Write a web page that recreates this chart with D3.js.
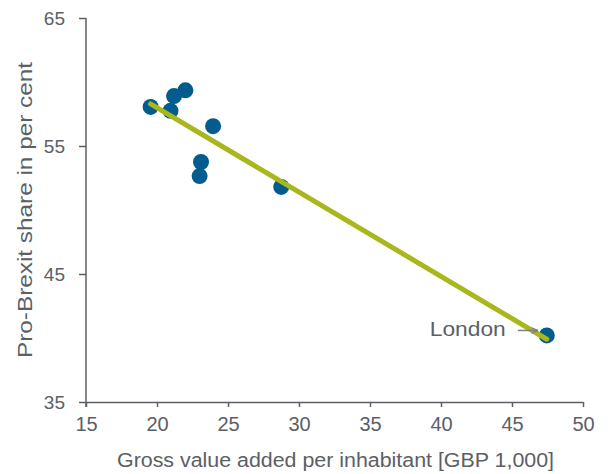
<!DOCTYPE html>
<html>
<head>
<meta charset="utf-8">
<script src="https://cdn.jsdelivr.net/npm/d3@7/dist/d3.min.js"></script>
<style>
  html, body { margin: 0; padding: 0; background: #fff; }
  svg { display: block; font-family: "Liberation Sans", Arial, sans-serif; }
</style>
</head>
<body>
<svg id="chart" width="611" height="474"></svg>
<script>
// Regions: gross value added per inhabitant [GBP 1,000] vs pro-Brexit vote share [%]
const regions = ["R1", "R2", "R3", "R4", "R5", "R6", "R7", "R8", "London"];
const gva     = [19.55, 21.2, 22.0, 20.95, 23.95, 23.1, 23.0, 28.75, 47.45];
const leave   = [58.05, 58.9, 59.35, 57.75, 56.55, 53.75, 52.65, 51.8, 40.2];
const xTicks  = [15, 20, 25, 30, 35, 40, 45, 50];
const yTicks  = [35, 45, 55, 65];
const labelled = "London";

const svg = d3.select("#chart");
const textColor = "#5b6066";
const axisColor = "#5b6066";
const dotColor = "#035b8e";
const fitColor = "#a7b71c";

const x = d3.scaleLinear().domain([15, 50]).range([86, 583]);
const y = d3.scaleLinear().domain([35, 65]).range([402, 18]);

// Axes
const xAxis = svg.append("g")
  .attr("transform", `translate(0,${y(35)})`)
  .call(d3.axisBottom(x).tickValues(xTicks).tickSize(5).tickSizeOuter(0).tickPadding(10));
const yAxis = svg.append("g")
  .attr("transform", `translate(${x(15)},0)`)
  .call(d3.axisLeft(y).tickValues(yTicks).tickSize(7).tickSizeOuter(0).tickPadding(14));

[xAxis, yAxis].forEach(a => {
  a.selectAll("path.domain").attr("stroke", axisColor).attr("stroke-width", 1.5);
  a.selectAll(".tick line").attr("stroke", axisColor).attr("stroke-width", 1.5);
  a.selectAll(".tick text").attr("fill", textColor)
    .style("font-family", "'Liberation Sans', Arial, sans-serif");
});
xAxis.selectAll(".tick text").style("font-size", "20px");
yAxis.selectAll(".tick text").style("font-size", "19px");
// the vertical axis runs a little below the horizontal one
yAxis.select("path.domain").attr("d", `M0,${y(65)}V${y(35) + 5}`);

// Axis titles
svg.append("text")
  .attr("x", 117).attr("y", 467)
  .attr("textLength", 437).attr("lengthAdjust", "spacingAndGlyphs")
  .attr("fill", textColor)
  .style("font-size", "20px")
  .text("Gross value added per inhabitant [GBP 1,000]");
svg.append("text")
  .attr("transform", `translate(32,${(y(35) + y(65)) / 2}) rotate(-90)`)
  .attr("x", -148)
  .attr("textLength", 296).attr("lengthAdjust", "spacingAndGlyphs")
  .attr("fill", textColor)
  .style("font-size", "20px")
  .text("Pro-Brexit share in per cent");

// Data points
const data = regions.map((r, i) => ({ r, x: gva[i], y: leave[i] }));

// Least-squares fit across the observed range
const mx = d3.mean(data, d => d.x), my = d3.mean(data, d => d.y);
const slope = d3.sum(data, d => (d.x - mx) * (d.y - my)) / d3.sum(data, d => (d.x - mx) ** 2);
const intercept = my - slope * mx;
const [x0, x1] = d3.extent(data, d => d.x);

svg.append("g").selectAll("circle")
  .data(data).join("circle")
  .attr("cx", d => x(d.x)).attr("cy", d => y(d.y))
  .attr("r", 8).attr("fill", dotColor);

svg.append("line")
  .attr("x1", x(x0)).attr("y1", y(intercept + slope * x0))
  .attr("x2", x(x1)).attr("y2", y(intercept + slope * x1))
  .attr("stroke", fitColor).attr("stroke-width", 5).attr("stroke-linecap", "round");

// Label with arrow for London
const lon = data.find(d => d.r === labelled);
svg.append("defs").append("marker")
  .attr("id", "arrow").attr("viewBox", "0 0 10 10")
  .attr("refX", 9).attr("refY", 5)
  .attr("markerWidth", 7).attr("markerHeight", 7)
  .attr("markerUnits", "userSpaceOnUse")
  .attr("orient", "auto")
  .append("path").attr("d", "M0,1L10,5L0,9").attr("fill", "none")
  .attr("stroke", "#7b7f84").attr("stroke-width", 1.5);
svg.append("line")
  .attr("x1", x(lon.x) - 29).attr("y1", y(lon.y) - 5)
  .attr("x2", x(lon.x) - 9).attr("y2", y(lon.y) - 5)
  .attr("stroke", "#7b7f84").attr("stroke-width", 1.5)
  .attr("marker-end", "url(#arrow)");
svg.append("text")
  .attr("x", x(lon.x) - 117).attr("y", y(lon.y) + 1)
  .attr("textLength", 76).attr("lengthAdjust", "spacingAndGlyphs")
  .attr("fill", textColor)
  .style("font-size", "21px")
  .text(labelled);
</script>
</body>
</html>
